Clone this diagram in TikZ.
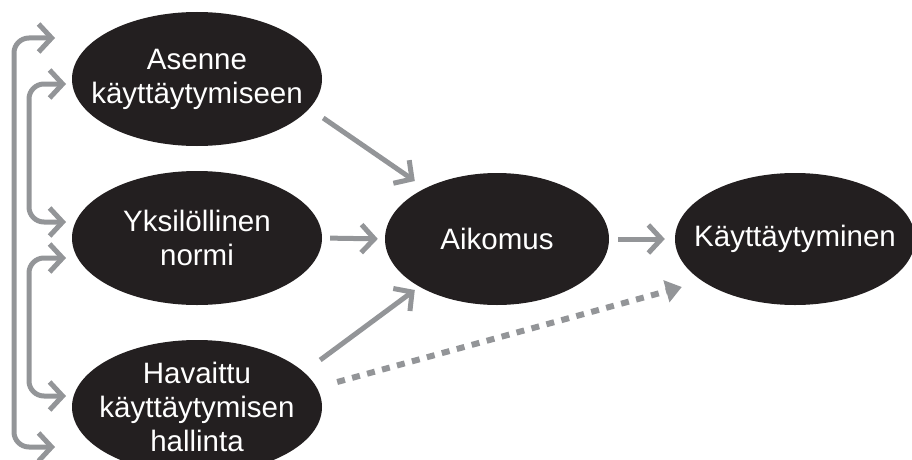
\documentclass[tikz,border=0pt]{standalone}
\usepackage{fontspec}
\setmainfont{Liberation Sans}
\usetikzlibrary{shapes,positioning,calc,arrows.meta}
\definecolor{ovalblack}{HTML}{231F20}
\definecolor{linkgray}{HTML}{939598}

\begin{document}
\begin{tikzpicture}[x=1pt,y=-1pt,
    >={Straight Barb[length=13pt,width=28pt]},
    oval/.style={ellipse, fill=ovalblack, inner sep=0pt},
    ovaltext/.style={text=white, align=center, font=\fontsize{29.5}{34}\selectfont},
    link/.style={draw=linkgray, line width=5pt, ->},
    maybe/.style={draw=linkgray, line width=6pt, dash pattern=on 8pt off 7.5pt,
        -{Triangle[length=16pt,width=22pt]}}]
    \useasboundingbox (0,0) rectangle (912,460);

    % Ovals
    \node [oval, minimum width=250, minimum height=134,
        label={[ovaltext]center:Asenne\\käyttäytymiseen}] (asenne) at (197,79) {};
    \node [oval, minimum width=250, minimum height=134,
        label={[ovaltext]center:Yksilöllinen\\normi}] (normi) at (197,238) {};
    \node [oval, minimum width=250, minimum height=134,
        label={[ovaltext]center:Havaittu\\käyttäytymisen\\hallinta}] (hallinta) at (197,407) {};
    \node [oval, minimum width=224, minimum height=132,
        label={[ovaltext]center:Aikomus}] (aikomus) at (497,239) {};
    \node [oval, minimum width=240, minimum height=132,
        label={[ovaltext]center:Käyttäytyminen}] (kaytt) at (795,239) {};

    % Correlations on the left
    \coordinate (top1) at (55,38);
    \coordinate (bot1) at (55,447);
    \coordinate (top2) at (66,84);
    \coordinate (bot2) at (66,222);
    \coordinate (top3) at (66,258);
    \coordinate (bot3) at (66,396);
    \draw [link, <->, rounded corners=15pt] (top1) -| (14,447) -- (bot1);
    \draw [link, <->, rounded corners=15pt] (top2) -| (29,222) -- (bot2);
    \draw [link, <->, rounded corners=15pt] (top3) -| (29,396) -- (bot3);

    % Paths
    \draw [link] ([shift={(1,39)}]asenne.east) -- ([shift={(30,-58)}]aikomus.west);
    \draw [link, shorten <=8pt, shorten >=7pt] (normi.east) -- (aikomus.west);
    \draw [link] ([shift={(-2,-47)}]hallinta.east) -- ([shift={(30,51)}]aikomus.west);
    \draw [link, shorten <=9pt, shorten >=10pt] (aikomus.east) -- (kaytt.west);
    \draw [maybe] ([shift={(15,-25)}]hallinta.east) -- ([shift={(7,48)}]kaytt.west);
\end{tikzpicture}
\end{document}
